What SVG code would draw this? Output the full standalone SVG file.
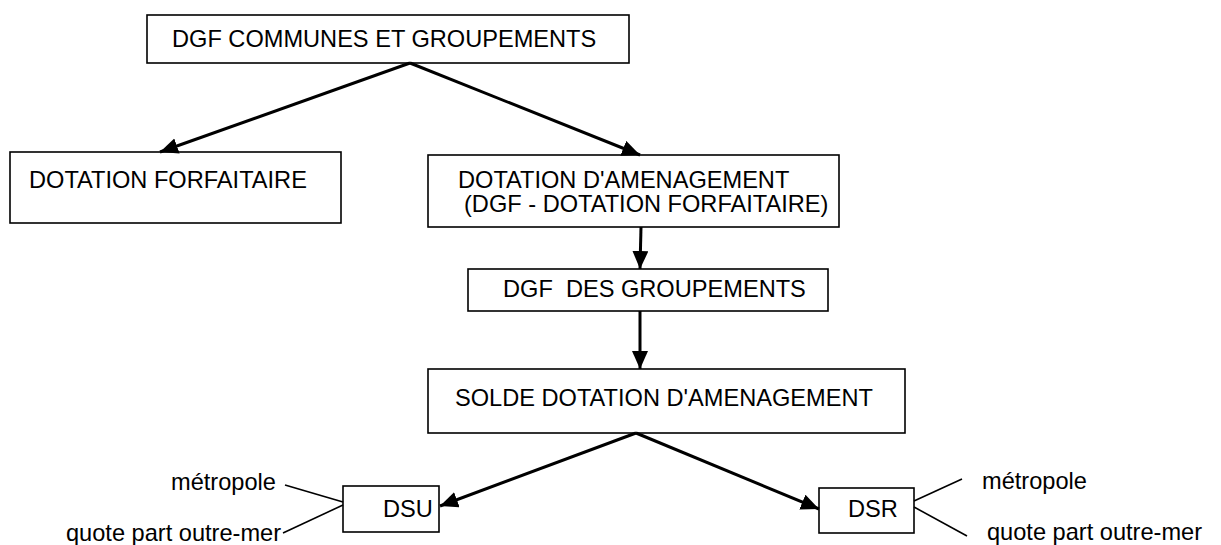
<svg xmlns="http://www.w3.org/2000/svg" width="1221" height="545" viewBox="0 0 1221 545">
  <style>
    .box { fill: #ffffff; stroke: #000000; stroke-width: 1.6; }
    .lbl { font-family: "Liberation Sans", Arial, sans-serif; font-size: 23.6px; fill: #000000; white-space: pre; }
    .arrow { fill: none; stroke: #000000; stroke-width: 3; marker-end: url(#head); }
    .tick { fill: none; stroke: #000000; stroke-width: 1.6; }
  </style>
  <defs>
    <marker id="head" markerUnits="userSpaceOnUse" markerWidth="20" markerHeight="18" refX="18" refY="8" orient="auto">
      <path d="M0,0 L18,8 L0,16 Z" fill="#000000"/>
    </marker>
  </defs>
  <rect width="1221" height="545" fill="#ffffff"/>

  <g id="dgf-communes">
    <rect class="box" x="147" y="15" width="482" height="48"/>
    <text class="lbl" x="172" y="47">DGF COMMUNES ET GROUPEMENTS</text>
  </g>

  <g id="dotation-forfaitaire">
    <rect class="box" x="10" y="152" width="331" height="71"/>
    <text class="lbl" x="29" y="188">DOTATION FORFAITAIRE</text>
  </g>

  <g id="dotation-amenagement">
    <rect class="box" x="428" y="155" width="411" height="72"/>
    <text class="lbl" x="458" y="188">DOTATION D'AMENAGEMENT</text>
    <text class="lbl" x="464" y="212">(DGF - DOTATION FORFAITAIRE)</text>
  </g>

  <g id="dgf-groupements">
    <rect class="box" x="468" y="269" width="360" height="42"/>
    <text class="lbl" x="503" y="297">DGF  DES GROUPEMENTS</text>
  </g>

  <g id="solde-amenagement">
    <rect class="box" x="428" y="369" width="477" height="64"/>
    <text class="lbl" x="455" y="406">SOLDE DOTATION D'AMENAGEMENT</text>
  </g>

  <g id="dsu">
    <rect class="box" x="343" y="486" width="96" height="46"/>
    <text class="lbl" x="383" y="517">DSU</text>
    <text class="lbl" x="171" y="490">métropole</text>
    <text class="lbl" x="66" y="541">quote part outre-mer</text>
  </g>

  <g id="dsr">
    <rect class="box" x="819" y="488" width="95" height="45"/>
    <text class="lbl" x="848" y="517">DSR</text>
    <text class="lbl" x="982" y="489">métropole</text>
    <text class="lbl" x="987" y="540">quote part outre-mer</text>
  </g>

  <g id="connectors">
    <line class="arrow" x1="410" y1="63" x2="160" y2="152"/>
    <line class="arrow" x1="410" y1="63" x2="640" y2="155"/>
    <line class="arrow" x1="641" y1="227" x2="640" y2="269"/>
    <line class="arrow" x1="640" y1="311" x2="640" y2="369"/>
    <line class="arrow" x1="636" y1="433" x2="440" y2="506"/>
    <line class="arrow" x1="636" y1="433" x2="819" y2="509"/>
    <line class="tick" x1="285" y1="485" x2="343" y2="502"/>
    <line class="tick" x1="343" y1="505" x2="283" y2="533"/>
    <line class="tick" x1="914" y1="501" x2="962" y2="479"/>
    <line class="tick" x1="914" y1="507" x2="967" y2="536"/>
  </g>
</svg>
